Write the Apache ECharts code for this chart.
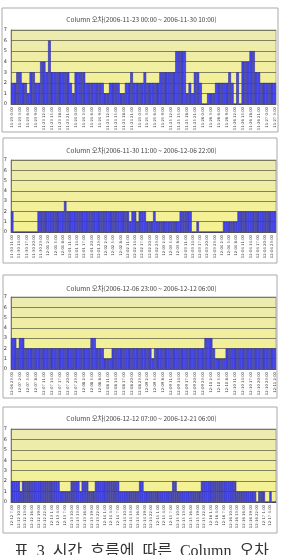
<!DOCTYPE html>
<html><head><meta charset="utf-8">
<script src="https://cdn.jsdelivr.net/npm/echarts@6/dist/echarts.min.js"></script>
<style>html,body{margin:0;padding:0;background:#fff}#c{width:283px;height:555px}</style>
</head><body><div id="c"></div>
<script>
const titles = [
  'Column 오차(2006-11-23 00:00 ~ 2006-11-30 10:00)',
  'Column 오차(2006-11-30 11:00 ~ 2006-12-06 22:00)',
  'Column 오차(2006-12-06 23:00 ~ 2006-12-12 06:00)',
  'Column 오차(2006-12-12 07:00 ~ 2006-12-21 06:00)'
];
const caption = '표  3  시간  흐름에  따른  Column  오차';
const yTicks = [0,1,2,3,4,5,6,7];

const values1 = [2,2,3,3,2,2,1,3,3,2,2,4,4,3,6,3,3,3,3,3,3,3,2,1,3,3,3,3,2,2,2,2,2,2,2,1,1,2,2,2,2,1,1,2,2,3,2,2,2,2,3,2,2,2,2,2,3,3,3,3,3,3,5,5,5,5,1,2,1,3,3,2,0,0,1,1,1,2,2,2,2,2,3,2,0,3,0,4,4,4,5,5,3,3,2,2,2,2,2,2];
const values2 = [2,0,0,0,0,0,0,0,0,0,0,2,2,2,2,2,2,2,2,2,2,2,3,2,2,2,2,2,2,2,2,2,2,2,2,2,2,2,2,2,2,2,2,2,2,2,2,2,2,1,2,2,1,2,2,2,1,1,1,2,1,1,1,1,1,1,1,1,1,1,2,2,2,2,2,0,0,1,0,0,0,0,0,0,0,0,0,0,1,1,1,1,1,1,2,2,2,2,2,2,2,2,2,2,2,2,2,2,2,2];
const values3 = [3,3,2,3,3,2,2,2,2,2,2,2,2,2,2,2,2,2,2,2,2,2,2,2,2,2,2,2,2,2,3,3,2,2,2,1,1,1,2,2,2,2,2,2,2,2,2,2,2,2,2,2,2,1,2,2,2,2,2,2,2,2,2,2,2,2,2,2,2,2,2,2,2,3,3,3,2,1,1,1,1,2,2,2,2,2,2,2,2,2,2,2,2,2,2,2,2,2,2,2];
const values4 = [2,2,2,2,1,2,2,2,2,2,2,2,2,2,2,2,2,2,2,2,2,2,1,1,1,1,1,2,2,2,2,1,2,2,2,1,1,1,2,2,2,2,2,2,2,2,2,2,2,1,1,1,1,1,1,1,1,1,2,2,1,1,1,1,1,1,1,1,1,1,1,1,1,2,2,1,1,1,1,1,1,1,1,1,1,1,2,2,2,2,2,2,2,2,2,2,2,2,2,2,2,2,1,1,1,1,1,1,1,1,1,0,1,1,1,0,0,1,0,0];
const starts = ['2006-11-23T00:00','2006-11-30T11:00','2006-12-06T23:00','2006-12-12T07:00'];

function makeCats(start, n){
  const out=[]; const t0=new Date(start+':00Z').getTime();
  for(let i=0;i<n;i++){
    const d=new Date(t0+i*3600000);
    const mm=String(d.getUTCMonth()+1).padStart(2,'0'), dd=String(d.getUTCDate()).padStart(2,'0');
    out.push(mm+'-'+dd+' '+d.getUTCHours()+':00');
  }
  return out;
}
const allValues=[values1,values2,values3,values4];
const gridPos=[{top:30,height:74},{top:160,height:72},{top:297,height:72},{top:429,height:73}];
const titleY=[11,142,280,410];
const panels=[[2,8,276,124],[3,138,274,125],[3,275,274,123],[3,407,274,126]];

const chart=echarts.init(document.getElementById('c'),null,{renderer:'canvas'});
const bg={type:'linear',x:0,y:0,x2:0,y2:1,colorStops:[{offset:0,color:'#ecebb2'},{offset:1,color:'#f6f28e'}]};
const opt={
  backgroundColor:'#fff', animation:false,
  title: titles.map((t,i)=>({text:t,left:'center',top:titleY[i],textStyle:{fontSize:6.5,fontWeight:'normal',color:'#444',fontFamily:'Noto Sans CJK KR'}}))
    .concat([{text:caption,left:'center',top:539,textStyle:{fontSize:16,fontWeight:'normal',color:'#333',fontFamily:'"Liberation Serif", "Noto Sans CJK KR"'}}]),
  grid: gridPos.map(g=>({left:11,right:7,top:g.top,height:g.height,show:true,backgroundColor:bg,borderColor:'#999',borderWidth:0.8})),
  xAxis: allValues.map((v,i)=>({type:'category',gridIndex:i,data:makeCats(starts[i],v.length),
    axisLine:{lineStyle:{color:'#555',width:0.8}},axisTick:{show:false},
    axisLabel:{rotate:90,fontSize:3.8,color:'#444',interval:2,margin:3,fontFamily:'DejaVu Sans'}})),
  yAxis: allValues.map((v,i)=>({type:'value',gridIndex:i,min:yTicks[0],max:yTicks[yTicks.length-1],interval:1,
    axisLine:{show:true,lineStyle:{color:'#666',width:0.8}},axisTick:{show:false},
    axisLabel:{fontSize:5,color:'#333',margin:4,fontFamily:'DejaVu Sans'},
    splitLine:{lineStyle:{color:'#66664a',width:0.8}}})),
  series: allValues.map((v,i)=>({type:'bar',xAxisIndex:i,yAxisIndex:i,data:v,barCategoryGap:'0%',
    itemStyle:{color:'#4848ec',borderColor:'#1e1e90',borderWidth:0.5}})),
  graphic: panels.map(p=>({type:'rect',shape:{x:p[0],y:p[1],width:p[2],height:p[3]},style:{fill:'none',stroke:'#aaa',lineWidth:1},z:-1}))
};
chart.setOption(opt);
</script></body></html>
